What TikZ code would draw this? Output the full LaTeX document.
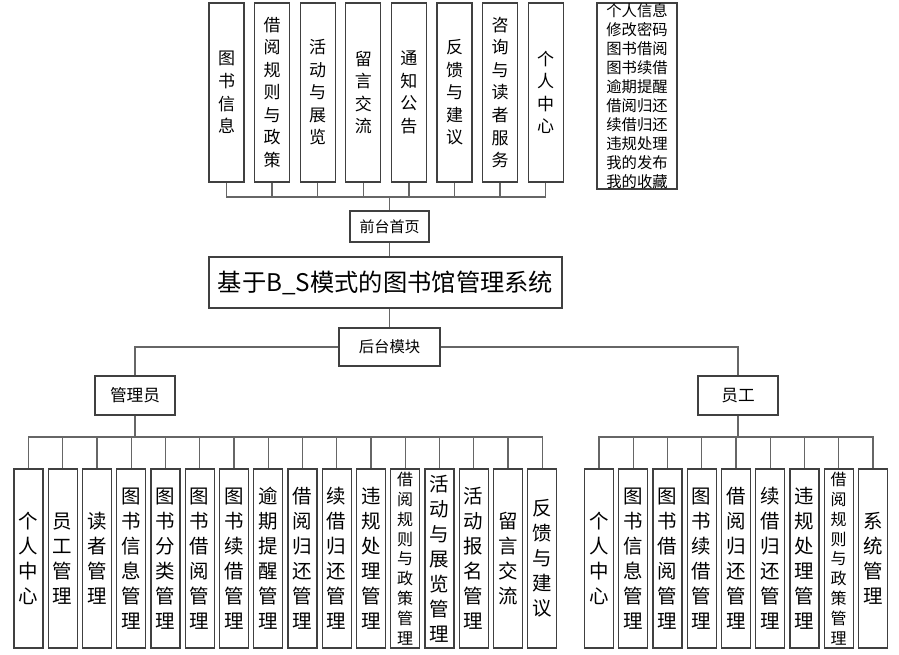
\documentclass[tikz,border=0pt]{standalone}
\usepackage{fontspec}
\setmainfont{Noto Sans CJK SC}
\usetikzlibrary{positioning}

\begin{document}
\begin{tikzpicture}[x=0.75pt, y=-0.75pt,
  topbox/.style={draw=black!75, line width=0.9pt, inner sep=0pt, minimum width=26.25pt, minimum height=134.25pt, align=center, font=\fontsize{12.75}{16.9}\selectfont},
  subbox/.style={draw=black!75, line width=0.9pt, inner sep=0pt, minimum width=21.75pt, minimum height=134.25pt, align=center, font=\fontsize{14.6}{18.75}\selectfont},
  tiny/.style={font=\fontsize{12}{14.85}\selectfont},
  lbl/.style={draw=black!75, line width=0.9pt, inner sep=0pt, align=center},
  link/.style={draw=black!60, line width=1pt}
]
\useasboundingbox (0,0) rectangle (899,654);
% front end
\node[topbox] (t1) at (226.5,92.5) {图\\书\\信\\息};
\node[topbox] (t2) at (272.1,92.5) {借\\阅\\规\\则\\与\\政\\策};
\node[topbox] (t3) at (317.7,92.5) {活\\动\\与\\展\\览};
\node[topbox] (t4) at (363.3,92.5) {留\\言\\交\\流};
\node[topbox] (t5) at (408.9,92.5) {通\\知\\公\\告};
\node[topbox] (t6) at (454.5,92.5) {反\\馈\\与\\建\\议};
\node[topbox] (t7) at (500.1,92.5) {咨\\询\\与\\读\\者\\服\\务};
\node[topbox] (t8) at (545.7,92.5) {个\\人\\中\\心};
\node[lbl, minimum width=60pt, font=\fontsize{11.5}{14.3}\selectfont] (plist) at (637,96) {个人信息\\修改密码\\图书借阅\\图书续借\\逾期提醒\\借阅归还\\续借归还\\违规处理\\我的发布\\我的收藏};
\node[lbl, minimum width=59.25pt, minimum height=23.25pt, font=\fontsize{11.25}{13}\selectfont] (qt) at (389.5,226.5) {前台首页};
\coordinate (tbus) at (389.5,197);
% system
\node[lbl, minimum width=264.75pt, minimum height=38.25pt, font=\fontsize{18.2}{20}\selectfont] (sys) at (385.5,282.5) {基于B\_S模式的图书馆管理系统};
\node[lbl, minimum width=75.75pt, minimum height=28.5pt, font=\fontsize{11.5}{13}\selectfont] (ht) at (389.5,347) {后台模块};
\node[lbl, minimum width=60pt, minimum height=29.25pt, font=\fontsize{12.5}{14}\selectfont] (adm) at (135,395.5) {管理员};
\node[lbl, minimum width=60pt, minimum height=29.25pt, font=\fontsize{12.5}{14}\selectfont] (emp) at (738,395.5) {员工};
\coordinate (abus) at (135,437);
\coordinate (ebus) at (738,437);
% administrator
\node[subbox] (a1) at (28.5,558.5) {个\\人\\中\\心};
\node[subbox] (a2) at (62.7,558.5) {员\\工\\管\\理};
\node[subbox] (a3) at (97,558.5) {读\\者\\管\\理};
\node[subbox] (a4) at (131.2,558.5) {图\\书\\信\\息\\管\\理};
\node[subbox] (a5) at (165.5,558.5) {图\\书\\分\\类\\管\\理};
\node[subbox] (a6) at (199.7,558.5) {图\\书\\借\\阅\\管\\理};
\node[subbox] (a7) at (234,558.5) {图\\书\\续\\借\\管\\理};
\node[subbox] (a8) at (268.2,558.5) {逾\\期\\提\\醒\\管\\理};
\node[subbox] (a9) at (302.5,558.5) {借\\阅\\归\\还\\管\\理};
\node[subbox] (a10) at (336.7,558.5) {续\\借\\归\\还\\管\\理};
\node[subbox] (a11) at (371,558.5) {违\\规\\处\\理\\管\\理};
\node[subbox, tiny] (a12) at (405.2,558.5) {借\\阅\\规\\则\\与\\政\\策\\管\\理};
\node[subbox] (a13) at (439.5,558.5) {活\\动\\与\\展\\览\\管\\理};
\node[subbox] (a14) at (473.7,558.5) {活\\动\\报\\名\\管\\理};
\node[subbox] (a15) at (508,558.5) {留\\言\\交\\流};
\node[subbox] (a16) at (542.2,558.5) {反\\馈\\与\\建\\议};
% staff
\node[subbox] (e1) at (599,558.5) {个\\人\\中\\心};
\node[subbox] (e2) at (633.2,558.5) {图\\书\\信\\息\\管\\理};
\node[subbox] (e3) at (667.5,558.5) {图\\书\\借\\阅\\管\\理};
\node[subbox] (e4) at (701.7,558.5) {图\\书\\续\\借\\管\\理};
\node[subbox] (e5) at (736,558.5) {借\\阅\\归\\还\\管\\理};
\node[subbox] (e6) at (770.2,558.5) {续\\借\\归\\还\\管\\理};
\node[subbox] (e7) at (804.5,558.5) {违\\规\\处\\理\\管\\理};
\node[subbox, tiny] (e8) at (838.7,558.5) {借\\阅\\规\\则\\与\\政\\策\\管\\理};
\node[subbox] (e9) at (873,558.5) {系\\统\\管\\理};
% connectors
\draw[link] (qt) -- (tbus) -| (t1) (tbus) -| (t2) (tbus) -| (t3) (tbus) -| (t4)
  (tbus) -| (t5) (tbus) -| (t6) (tbus) -| (t7) (tbus) -| (t8);
\draw[link] (qt) -- (qt |- sys.north);
\draw[link] (ht) -- (ht |- sys.south);
\draw[link] (ht) -| (adm);
\draw[link] (ht) -| (emp);
\draw[link] (adm) -- (abus) -| (a1) (abus) -| (a2) (abus) -| (a3) (abus) -| (a4)
  (abus) -| (a5) (abus) -| (a6) (abus) -| (a7) (abus) -| (a8)
  (abus) -| (a9) (abus) -| (a10) (abus) -| (a11) (abus) -| (a12)
  (abus) -| (a13) (abus) -| (a14) (abus) -| (a15) (abus) -| (a16);
\draw[link] (emp) -- (ebus) -| (e1) (ebus) -| (e2) (ebus) -| (e3) (ebus) -| (e4)
  (ebus) -| (e5) (ebus) -| (e6) (ebus) -| (e7) (ebus) -| (e8) (ebus) -| (e9);
\end{tikzpicture}
\end{document}
